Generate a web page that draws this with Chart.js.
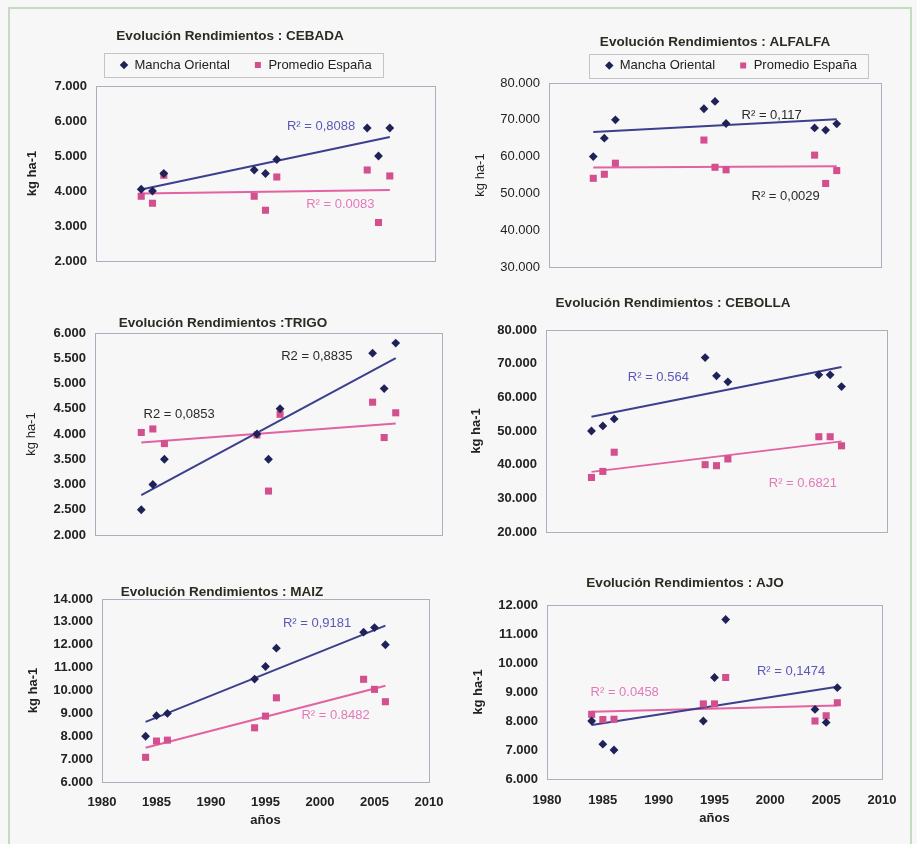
<!DOCTYPE html>
<html><head><meta charset="utf-8">
<script src="https://cdn.jsdelivr.net/npm/chart.js@4.4.1/dist/chart.umd.min.js"></script>
<style>
html,body{margin:0;padding:0;background:#f7f7f8;}
#wrap{position:relative;width:917px;height:844px;overflow:hidden;background:#f7f7f8;}
#frame{position:absolute;left:8px;top:7px;width:904px;height:860px;border:2px solid #c3dbbf;box-sizing:border-box;}
#wrap canvas{position:absolute;}
</style></head><body><div id="wrap"><div id="frame"></div></div>
<script>
// ---------- data ----------
const years = [1984, 1985, 1986, 1994, 1995, 1996, 2004, 2005, 2006];
const seriesNames = ['Mancha Oriental', 'Promedio España'];

const cebadaMancha  = [4050, 4000, 4500, 4600, 4500, 4900, 5800, 5000, 5800];
const cebadaEspana  = [3850, 3650, 4450, 3850, 3450, 4400, 4600, 3100, 4430];
const alfalfaMancha = [60000, 65000, 70000, 73000, 75000, 69000, 67800, 67200, 68900];
const alfalfaEspana = [54100, 55200, 58200, 64500, 57100, 56400, 60400, 52700, 56200];
const trigoMancha   = [2500, 3000, 3500, 4000, 3500, 4500, 5600, 4900, 5800];
const trigoEspana   = [4030, 4100, 3810, 3980, 2870, 4390, 4630, 3930, 4420];
const cebollaMancha = [50000, 51500, 53600, 71800, 66400, 64600, 66700, 66700, 63200];
const cebollaEspana = [36200, 38000, 43700, 40000, 39700, 41700, 48300, 48300, 45600];
const maizMancha    = [8000, 8900, 9000, 10500, 11050, 11850, 12550, 12750, 12000];
const maizEspana    = [7080, 7790, 7830, 8370, 8880, 9680, 10490, 10050, 9510];
const ajoMancha     = [8000, 7200, 7000, 8000, 9500, 11500, 8400, 7950, 9150];
const ajoEspana     = [8230, 8050, 8060, 8590, 8590, 9500, 8000, 8180, 8630];

const xTicks = {min: 1980, max: 2010, step: 5};
const r2Texts = {
  cebada:  ['R² = 0,8088', 'R² = 0.0083'],
  alfalfa: ['R² = 0,117', 'R² = 0,0029'],
  trigo:   ['R2 = 0,8835', 'R2 = 0,0853'],
  cebolla: ['R² = 0.564', 'R² = 0.6821'],
  maiz:    ['R² = 0,9181', 'R² = 0.8482'],
  ajo:     ['R² = 0,1474', 'R² = 0.0458']
};

// ---------- styles ----------
const FONT = '"Liberation Sans", Arial, Helvetica, sans-serif';
const NAVY = '#1f2257', PINK = '#d44f8e';
const NAVY_LINE = '#3c3f8c', PINK_LINE = '#e262a2';
const BLUE_TXT = '#5b57b8', PINK_TXT = '#e27ab8', DARK_TXT = '#2a2a2a';

function fmt(v) { return String(Math.round(v)).replace(/\B(?=(\d{3})+(?!\d))/g, '.'); }
function linFit(xs, ys) {
  const n = xs.length;
  const mx = xs.reduce((a, b) => a + b, 0) / n, my = ys.reduce((a, b) => a + b, 0) / n;
  let sxy = 0, sxx = 0;
  for (let i = 0; i < n; i++) { sxy += (xs[i] - mx) * (ys[i] - my); sxx += (xs[i] - mx) ** 2; }
  const b = sxy / sxx;
  return x => my + b * (x - mx);
}

const plotFrame = {
  id: 'plotFrame',
  beforeDatasetsDraw(chart) {
    const {ctx, chartArea: a} = chart;
    ctx.save();
    ctx.strokeStyle = '#a9afbd'; ctx.lineWidth = 1;
    ctx.strokeRect(Math.round(a.left) + 0.5, Math.round(a.top) + 0.5, Math.round(a.right - a.left), Math.round(a.bottom - a.top));
    ctx.restore();
  }
};
const r2Labels = {
  id: 'r2Labels',
  afterDatasetsDraw(chart, args, opts) {
    const {ctx, scales: {x, y}} = chart;
    ctx.save();
    ctx.font = '13px ' + FONT; ctx.textBaseline = 'middle'; ctx.textAlign = 'left';
    (opts.items || []).forEach(it => {
      ctx.fillStyle = it.color;
      ctx.fillText(it.text, x.getPixelForValue(it.x), y.getPixelForValue(it.y));
    });
    ctx.restore();
  }
};
const legendFrame = {
  id: 'legendFrame',
  afterInit(chart, args, opts) {
    const lg = chart.legend;
    if (!lg) return;
    const orig = lg.fit;
    lg.fit = function () { orig.call(this); if (this.options.display) this.height += (opts.extra || 0); };
  },
  afterDraw(chart, args, opts) {
    const lg = chart.legend;
    if (!lg || !lg.options.display || !lg.legendHitBoxes || !lg.legendHitBoxes.length) return;
    const hb = lg.legendHitBoxes, f = hb[0], l = hb[hb.length - 1];
    const cy = f.top + f.height / 2;
    const ctx = chart.ctx;
    ctx.save();
    ctx.strokeStyle = '#c4c4c8'; ctx.lineWidth = 1;
    const left = Math.round(f.left - 16) + 0.5, right = Math.round(l.left + l.width + 11) + 0.5;
    ctx.strokeRect(left, Math.round(cy - 12) + 0.5, right - left, 24);
    ctx.restore();
  }
};

// ---------- panels (layout numbers only) ----------
const panels = [
  {title: 'Evolución Rendimientos : CEBADA', m: cebadaMancha, e: cebadaEspana, y: [2000, 7000, 1000],
   box: [0, 0, 460, 285], pad: [25, 0, 25, 24], yW: 71, yTP: 0, yBold: true, tBold: true, tPad: [27.9, -9.6], tFull: true,
   legend: {align: 'start', extra: 4.5}, xVis: false,
   r2: [{t: r2Texts.cebada[0], x: 1996.9, y: 5857, c: BLUE_TXT}, {t: r2Texts.cebada[1], x: 1998.6, y: 3629, c: PINK_TXT}]},
  {title: 'Evolución Rendimientos : ALFALFA', m: alfalfaMancha, e: alfalfaEspana, y: [30000, 80000, 10000],
   box: [455, 0, 462, 285], pad: [0, 0, 36, 18], yW: 94, yTP: 17.2, yBold: false, tBold: false, tPad: [33.9, -15.1], tFull: false,
   legend: {align: 'end', extra: 1}, xVis: false,
   r2: [{t: r2Texts.alfalfa[0], x: 1997.4, y: 71100, c: DARK_TXT}, {t: r2Texts.alfalfa[1], x: 1998.3, y: 49100, c: DARK_TXT}]},
  {title: 'Evolución Rendimientos :TRIGO', m: trigoMancha, e: trigoEspana, y: [2000, 6000, 500],
   box: [0, 285, 460, 268], pad: [4, 0, 18, 18], yW: 91, yTP: 19.2, yBold: false, tBold: true, tPad: [29.9, 1.9], tFull: true,
   legend: null, xVis: false,
   r2: [{t: r2Texts.trigo[0], x: 1996.1, y: 5531, c: DARK_TXT}, {t: r2Texts.trigo[1], x: 1984.2, y: 4396, c: DARK_TXT}]},
  {title: 'Evolución Rendimientos : CEBOLLA', m: cebollaMancha, e: cebollaEspana, y: [20000, 80000, 10000],
   box: [455, 285, 462, 268], pad: [4, 0, 30, 21], yW: 87, yTP: 9.2, yBold: true, tBold: true, tPad: [9.9, 18.9], tFull: true,
   legend: null, xVis: false,
   r2: [{t: r2Texts.cebolla[0], x: 1987.2, y: 65850, c: BLUE_TXT}, {t: r2Texts.cebolla[1], x: 1999.6, y: 34300, c: PINK_TXT}]},
  {title: 'Evolución Rendimientos : MAIZ', m: maizMancha, e: maizEspana, y: [6000, 14000, 1000],
   box: [0, 553, 460, 291], pad: [15, 0, 31, 0], yW: 87, yTP: 10.2, yBold: true, tBold: true, tPad: [30.9, -1.1], tFull: true,
   legend: null, xVis: true, xH: 62, xTickPad: 12.7, xTitlePad: 16.2,
   r2: [{t: r2Texts.maiz[0], x: 1996.6, y: 12940, c: BLUE_TXT}, {t: r2Texts.maiz[1], x: 1998.3, y: 8930, c: PINK_TXT}]},
  {title: 'Evolución Rendimientos : AJO', m: ajoMancha, e: ajoEspana, y: [6000, 12000, 1000],
   box: [455, 553, 462, 291], pad: [33, 0, 35, 0], yW: 59, yTP: -17.8, yBold: true, tBold: true, tPad: [21.9, 13.9], tFull: true,
   legend: null, xVis: true, xH: 65, xTickPad: 14, xTitlePad: 17.9,
   r2: [{t: r2Texts.ajo[0], x: 1998.8, y: 9700, c: BLUE_TXT}, {t: r2Texts.ajo[1], x: 1983.9, y: 8990, c: PINK_TXT}]}
];

const wrap = document.getElementById('wrap');
panels.forEach(p => {
  const cv = document.createElement('canvas');
  cv.width = p.box[2]; cv.height = p.box[3];
  cv.style.left = p.box[0] + 'px'; cv.style.top = p.box[1] + 'px';
  cv.style.width = p.box[2] + 'px'; cv.style.height = p.box[3] + 'px';
  wrap.appendChild(cv);

  const x0 = Math.min(...years), x1 = Math.max(...years);
  const fm = linFit(years, p.m), fe = linFit(years, p.e);
  const tickFont = {family: FONT, size: 13, weight: p.tBold ? 'bold' : 'normal'};

  new Chart(cv, {
    type: 'scatter',
    data: {
      datasets: [
        {label: seriesNames[0], data: years.map((x, i) => ({x, y: p.m[i]})), pointStyle: 'rectRot', pointRadius: 4.4,
         backgroundColor: NAVY, borderColor: NAVY, borderWidth: 0, order: 0},
        {label: seriesNames[1], data: years.map((x, i) => ({x, y: p.e[i]})), pointStyle: 'rect', pointRadius: 5,
         backgroundColor: PINK, borderColor: PINK, borderWidth: 0, order: 0},
        {type: 'line', label: 'tendencia 1', data: [{x: x0, y: fm(x0)}, {x: x1, y: fm(x1)}], borderColor: NAVY_LINE,
         borderWidth: 2, pointRadius: 0, fill: false, order: 1},
        {type: 'line', label: 'tendencia 2', data: [{x: x0, y: fe(x0)}, {x: x1, y: fe(x1)}], borderColor: PINK_LINE,
         borderWidth: 2, pointRadius: 0, fill: false, order: 1}
      ]
    },
    options: {
      responsive: false, animation: false, events: [],
      layout: {padding: {left: p.pad[0], top: p.pad[1], right: p.pad[2], bottom: p.pad[3]}},
      scales: {
        x: {type: 'linear', min: xTicks.min, max: xTicks.max, display: p.xVis,
            ticks: {stepSize: xTicks.step, callback: v => String(v), font: tickFont, color: '#222', padding: p.xTickPad || 0, maxRotation: 0, autoSkip: false},
            grid: {display: false, drawTicks: false}, border: {display: false},
            title: {display: true, text: 'años', font: {family: FONT, size: 13, weight: 'bold'}, color: '#222', padding: {top: 0, bottom: p.xTitlePad || 0}},
            afterFit: s => { if (p.xVis) s.height = p.xH; }},
        y: {min: p.y[0], max: p.y[1],
            ticks: {stepSize: p.y[2], callback: v => fmt(v), font: tickFont, color: '#222', padding: 9},
            grid: {display: false, drawTicks: false}, border: {display: false},
            title: {display: true, text: 'kg ha-1', font: {family: FONT, size: 13, weight: p.yBold ? 'bold' : 'normal'}, color: '#222', padding: {top: p.yTP, bottom: 0}},
            afterFit: s => { s.width = p.yW; }}
      },
      plugins: {
        title: {display: true, text: p.title, fullSize: p.tFull, font: {family: FONT, size: 13.5, weight: 'bold'}, color: '#2b2b22',
                padding: {top: p.tPad[0], bottom: p.tPad[1]}},
        legend: {display: !!p.legend, fullSize: false, align: p.legend ? p.legend.align : 'center',
                 labels: {usePointStyle: true, boxWidth: 8, boxHeight: 6, padding: 24, color: '#222',
                          font: {family: FONT, size: 13}, filter: item => item.datasetIndex < 2}},
        legendFrame: {extra: p.legend ? p.legend.extra : 0},
        r2Labels: {items: p.r2.map(r => ({text: r.t, x: r.x, y: r.y, color: r.c}))},
        tooltip: {enabled: false}
      }
    },
    plugins: [plotFrame, r2Labels, legendFrame]
  });
});
</script></body></html>
